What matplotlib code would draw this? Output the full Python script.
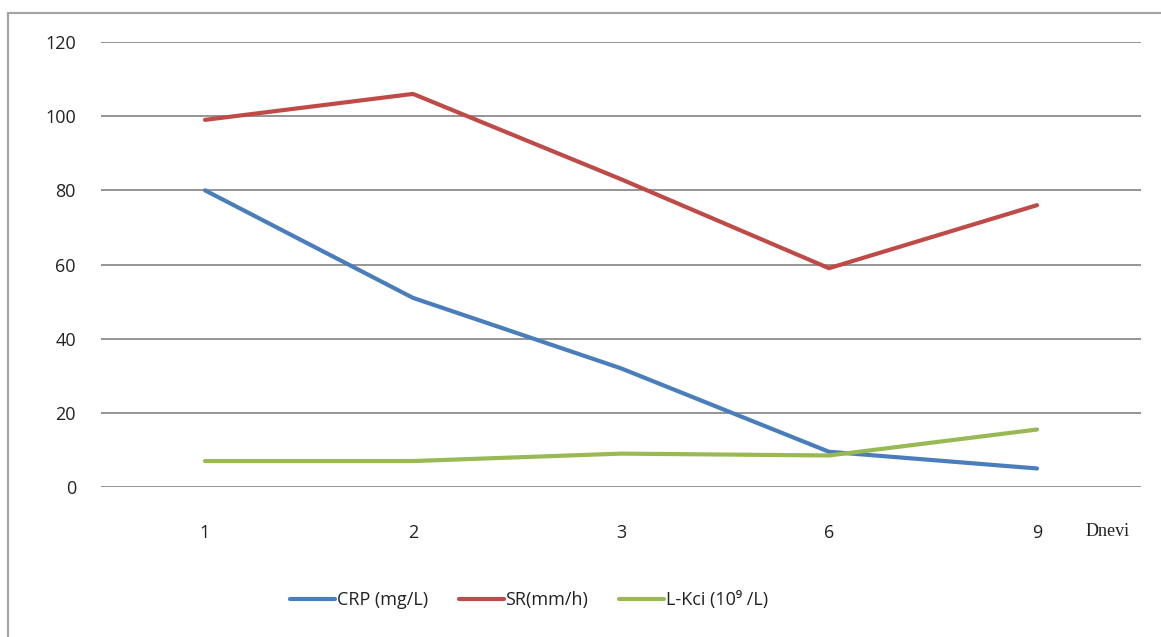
import matplotlib.pyplot as plt
from matplotlib.patches import Rectangle

# dani praćenja i laboratorijski nalazi
dani = ["1", "2", "3", "6", "9"]
crp = [80, 51, 32, 9.5, 5]
sr = [99, 106, 83, 59, 76]
lkci = [7, 7, 9, 8.5, 15.5]

y_ticks = [0, 20, 40, 60, 80, 100, 120]

fig = plt.figure(figsize=(11.61, 6.37), dpi=100)
fig.patch.set_facecolor("white")

# okvir grafikona (desni i donji rub izlaze izvan slike)
fig.patches.append(Rectangle((8 / 1161, -0.05), 1.2, 1 - 13 / 637 + 0.05,
                             transform=fig.transFigure, fill=False,
                             edgecolor="#a6a6a6", linewidth=1.6))

ax = fig.add_axes([101 / 1161, 1 - 487 / 637, 1040 / 1161, 445 / 637])
x = range(len(dani))

ax.plot(x, crp, color="#4a7ebb", lw=3, solid_capstyle="round", label="CRP (mg/L)")
ax.plot(x, sr, color="#be4b48", lw=3, solid_capstyle="round", label="SR(mm/h)")
ax.plot(x, lkci, color="#98b954", lw=3, solid_capstyle="round",
        label="L-Kci (10⁹ /L)")

ax.set_xlim(-0.5, len(dani) - 0.5)
ax.set_ylim(0, 120)
ax.set_yticks(y_ticks)
ax.set_xticks(list(x))
ax.set_xticklabels(dani)
ax.grid(axis="y", color="#8c8c8c", lw=1.3)
ax.set_axisbelow(True)
for s in ax.spines.values():
    s.set_visible(False)
ax.tick_params(axis="both", length=0, labelsize=13, colors="#222222")
ax.tick_params(axis="x", pad=27)
ax.tick_params(axis="y", pad=18)
for lab in ax.get_xticklabels() + ax.get_yticklabels():
    lab.set_fontfamily("Open Sans")

fig.text(1108 / 1161, 1 - 531 / 637, "Dnevi", ha="center", va="center",
         fontsize=13, family="Liberation Serif", color="#222222")

leg = fig.legend(loc="center", bbox_to_anchor=(529 / 1161, 1 - 600 / 637),
                 ncol=3, frameon=False, handlelength=2.5, handletextpad=0.1,
                 columnspacing=1.7,
                 prop={"family": ["Open Sans", "DejaVu Sans"], "size": 13})
for t in leg.get_texts():
    t.set_color("#222222")

fig.savefig("out.png", dpi=100)
